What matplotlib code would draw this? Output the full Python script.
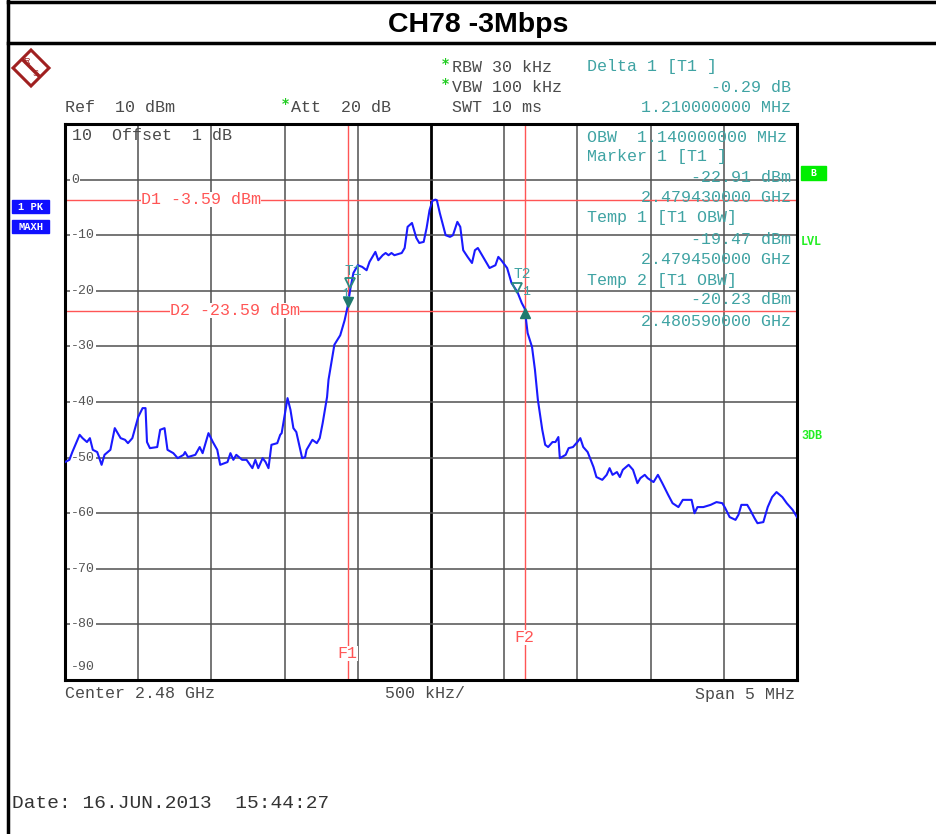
import matplotlib
matplotlib.use("Agg")
import matplotlib.pyplot as plt
from matplotlib.patches import Rectangle, Polygon
from matplotlib.transforms import ScaledTranslation

# trace: offset from 2.48 GHz centre (MHz) and level (dBm)
trace_freq = [-2.50, -2.47, -2.45, -2.40, -2.38, -2.35, -2.33, -2.31, -2.28, -2.25,
              -2.23, -2.19, -2.16, -2.12, -2.09, -2.07, -2.04, -2.00, -1.97, -1.95,
              -1.94, -1.92, -1.87, -1.85, -1.82, -1.80, -1.76, -1.73, -1.69, -1.68,
              -1.66, -1.61, -1.58, -1.56, -1.52, -1.49, -1.46, -1.44, -1.39, -1.37,
              -1.35, -1.33, -1.29, -1.26, -1.22, -1.20, -1.18, -1.15, -1.13, -1.11,
              -1.09, -1.05, -1.03, -1.02, -0.98, -0.96, -0.94, -0.92, -0.88, -0.86,
              -0.85, -0.81, -0.78, -0.76, -0.74, -0.71, -0.70, -0.66, -0.62, -0.59,
              -0.57, -0.55, -0.53, -0.50, -0.47, -0.44, -0.42, -0.38, -0.36, -0.33,
              -0.31, -0.29, -0.27, -0.25, -0.20, -0.18, -0.16, -0.13, -0.10, -0.08,
              -0.05, -0.03, -0.01, 0.01, 0.03, 0.04, 0.06, 0.10, 0.13, 0.15,
              0.18, 0.20, 0.22, 0.25, 0.28, 0.30, 0.32, 0.36, 0.40, 0.44,
              0.46, 0.48, 0.52, 0.55, 0.59, 0.62, 0.64, 0.66, 0.69, 0.71,
              0.73, 0.76, 0.78, 0.80, 0.83, 0.85, 0.87, 0.88, 0.92, 0.94,
              0.97, 1.00, 1.02, 1.04, 1.07, 1.11, 1.13, 1.17, 1.20, 1.22,
              1.24, 1.27, 1.29, 1.31, 1.35, 1.38, 1.41, 1.43, 1.46, 1.48,
              1.52, 1.55, 1.58, 1.62, 1.65, 1.69, 1.72, 1.76, 1.78, 1.80,
              1.82, 1.86, 1.91, 1.95, 1.99, 2.01, 2.04, 2.08, 2.10, 2.12,
              2.16, 2.18, 2.21, 2.23, 2.27, 2.30, 2.33, 2.36, 2.40, 2.43,
              2.47, 2.50]
trace_level = [-50.8, -50.4, -49.0, -45.9, -46.5, -47.2, -46.5, -48.6, -49.0, -51.3,
               -49.5, -48.6, -44.7, -46.5, -46.8, -47.4, -46.5, -42.7, -41.1, -41.1,
               -47.2, -48.3, -48.1, -45.0, -44.7, -48.6, -49.2, -50.1, -49.5, -49.0,
               -49.9, -49.5, -48.1, -49.2, -45.6, -47.2, -48.6, -51.3, -50.8, -49.2,
               -50.4, -49.5, -50.4, -50.4, -51.9, -50.4, -51.9, -50.1, -50.8, -51.9,
               -47.7, -47.4, -45.9, -45.6, -39.3, -41.4, -44.7, -45.4, -50.1, -49.9,
               -48.6, -46.8, -47.4, -46.5, -43.8, -39.1, -36.0, -29.7, -28.0, -25.3,
               -22.9, -19.5, -16.8, -15.4, -15.7, -16.3, -14.8, -13.0, -14.5, -13.6,
               -13.2, -13.6, -13.2, -13.6, -13.2, -12.3, -8.5, -7.8, -10.5, -11.4,
               -11.2, -8.7, -5.5, -3.8, -3.6, -3.7, -6.0, -10.0, -10.3, -10.0,
               -7.6, -8.5, -12.7, -13.9, -15.0, -12.7, -12.3, -14.1, -15.9, -15.4,
               -13.9, -14.5, -15.9, -18.6, -20.2, -22.2, -23.2, -27.6, -30.1, -34.2,
               -39.6, -45.0, -47.7, -48.1, -47.2, -47.2, -46.3, -50.1, -49.5, -48.3,
               -48.1, -47.2, -46.5, -48.1, -49.0, -51.7, -53.5, -54.0, -53.1, -51.9,
               -53.1, -52.6, -53.5, -52.2, -51.3, -52.2, -54.6, -53.7, -53.1, -53.7,
               -54.4, -53.1, -54.6, -56.7, -58.2, -58.9, -57.6, -57.6, -57.6, -60.0,
               -58.9, -58.9, -58.5, -58.0, -58.2, -59.1, -60.7, -61.2, -60.3, -58.5,
               -58.5, -59.4, -60.9, -61.8, -61.6, -58.9, -57.1, -56.2, -57.1, -58.2,
               -59.4, -60.7]

level_ticks = [0, -10, -20, -30, -40, -50, -60, -70, -80, -90]
display_lines = [-3.59, -23.59]
display_names = ["D1 -3.59 dBm", "D2 -23.59 dBm"]
freq_lines = [-0.57, 0.64]
freq_names = ["F1", "F2"]
marker1 = (-0.57, -22.91)
delta1 = (0.64, -23.20)
temp1 = (-0.55, -19.47)
temp2 = (0.59, -20.23)

W, H = 936, 834
MONO = "Liberation Mono"
TEAL = "#3fa3a3"
RED = "#ff5555"
GREY = "#505050"


def fx(x):
    return x / W


def fy(y):
    return 1 - y / H


fig = plt.figure(figsize=(W / 100, H / 100), dpi=100)

# page frame and title
fig.add_artist(plt.Line2D([fx(8), fx(8)], [0, 1], color="black", lw=2.5))
fig.add_artist(plt.Line2D([fx(8), 1], [fy(1.5), fy(1.5)], color="black", lw=2.5))
fig.add_artist(plt.Line2D([fx(8), 1], [fy(43), fy(43)], color="black", lw=2.5))
fig.text(fx(478), fy(25), "CH78 -3Mbps", ha="center", va="center",
         fontsize=20.5, fontweight="bold", family="Liberation Sans")

ax = fig.add_axes([fx(65), fy(680), fx(797) - fx(65), fy(124) - fy(680)])
ax.set_xlim(-2.5, 2.5)
ax.set_ylim(-90, 10)
ax.set_xticks([])
ax.set_yticks([])
for sp in ax.spines.values():
    sp.set_linewidth(2.2)

for i in range(1, 10):
    xv = -2.5 + 0.5 * i
    ax.axvline(xv, color="black" if i == 5 else GREY,
               lw=2.0 if i == 5 else 1.1, zorder=1)
for lv in level_ticks[:-1]:
    ax.axhline(lv, color=GREY, lw=1.1, zorder=1)

for lv in level_ticks:
    yv = lv if lv != -90 else -87.6
    ax.text(-2.46, yv, str(lv), ha="left", va="center", fontsize=9.5,
            family=MONO, color="#555555", zorder=3,
            bbox=dict(facecolor="white", edgecolor="none", pad=0.6))

# display and frequency lines
for lv, name, xt in zip(display_lines, display_names, [-1.98, -1.78]):
    ax.axhline(lv, color=RED, lw=1.0, zorder=2)
    ax.text(xt, lv, name, ha="left", va="center", fontsize=12, family=MONO,
            color=RED, zorder=3, bbox=dict(facecolor="white", edgecolor="none", pad=0))
for fv, name, lv in zip(freq_lines, freq_names, [-85.2, -82.3]):
    ax.axvline(fv, color=RED, lw=1.0, zorder=2)
    ax.text(fv, lv, name, ha="center", va="center", fontsize=12, family=MONO,
            color=RED, zorder=3, bbox=dict(facecolor="white", edgecolor="none", pad=0))

ax.plot(trace_freq, trace_level, color="#1a1aff", lw=1.5, zorder=4)

# markers: triangles sit with their tip on the trace point
up = ax.transData + ScaledTranslation(0, 0.045, fig.dpi_scale_trans)
down = ax.transData + ScaledTranslation(0, -0.045, fig.dpi_scale_trans)
ax.plot(*marker1, marker="v", color="#1f7a6e", ms=7, zorder=5, transform=up)
ax.plot(*delta1, marker="^", color="#1f7a6e", ms=7, zorder=5, transform=down)
for pt in (temp1, temp2):
    ax.plot(*pt, marker="v", mfc="none", mec="#2a8a80", ms=7, mew=1.3, zorder=5,
            transform=up)
ax.text(temp1[0] + 0.02, temp1[1] + 3.0, "T1", ha="center", va="center",
        fontsize=10.5, family=MONO, color=TEAL, zorder=6)
ax.text(temp2[0] + 0.03, temp2[1] + 3.2, "T2", ha="center", va="center",
        fontsize=10.5, family=MONO, color=TEAL, zorder=6)
ax.text(marker1[0] - 0.015, marker1[1] + 2.4, "1", ha="center", va="center",
        fontsize=9.5, family=MONO, color=TEAL, zorder=6)
ax.text(delta1[0] + 0.01, delta1[1] + 2.9, "1", ha="center", va="center",
        fontsize=9.5, family=MONO, color=TEAL, zorder=6)


# header texts
def t(x, y, s, ha="left", color="#4a4a4a", size=12):
    fig.text(fx(x), fy(y), s, ha=ha, va="center", fontsize=size, family=MONO, color=color)


t(65, 107, "Ref  10 dBm")
t(72, 136, "10  Offset  1 dB")
t(291, 107, "Att  20 dB")
t(452, 67, "RBW 30 kHz")
t(452, 87, "VBW 100 kHz")
t(452, 107, "SWT 10 ms")
for x, y in [(285, 104), (445, 64), (445, 84)]:
    fig.text(fx(x), fy(y), "*", ha="center", va="center", fontsize=10,
             color="#22cc22", fontweight="bold")

t(587, 67, "Delta 1 [T1 ]", color=TEAL)
t(791, 87, "-0.29 dB", ha="right", color=TEAL)
t(791, 107, "1.210000000 MHz", ha="right", color=TEAL)
t(587, 137, "OBW  1.140000000 MHz", color=TEAL)
t(587, 157, "Marker 1 [T1 ]", color=TEAL)
t(791, 178, "-22.91 dBm", ha="right", color=TEAL)
t(791, 198, "2.479430000 GHz", ha="right", color=TEAL)
t(587, 218, "Temp 1 [T1 OBW]", color=TEAL)
t(791, 240, "-19.47 dBm", ha="right", color=TEAL)
t(791, 259, "2.479450000 GHz", ha="right", color=TEAL)
t(587, 280, "Temp 2 [T1 OBW]", color=TEAL)
t(791, 300, "-20.23 dBm", ha="right", color=TEAL)
t(791, 321, "2.480590000 GHz", ha="right", color=TEAL)

t(65, 694, "Center 2.48 GHz")
t(385, 694, "500 kHz/")
t(795, 694, "Span 5 MHz", ha="right")
t(12, 803, "Date: 16.JUN.2013  15:44:27", color="#333333", size=14)

# side badges
for y0, label in [(200, "1 PK"), (220, "MAXH")]:
    fig.add_artist(Rectangle((fx(12), fy(y0 + 13)), fx(37), 13 / H, color="#1010ff"))
    fig.text(fx(30.5), fy(y0 + 6.5), label, ha="center", va="center", fontsize=7.5,
             family=MONO, color="white", fontweight="bold")
fig.add_artist(Rectangle((fx(801), fy(180)), fx(25), 14 / H, color="#00ee00"))
fig.text(fx(813.5), fy(173), "B", ha="center", va="center", fontsize=7,
         family=MONO, color="white", fontweight="bold")
for y, s in [(242, "LVL"), (436, "3DB")]:
    fig.text(fx(801), fy(y), s, ha="left", va="center", fontsize=8.5,
             family=MONO, color="#22ee22", fontweight="bold")

# maker logo
cx, cy, r = 31, 68, 18
fig.add_artist(Polygon([(fx(cx), fy(cy - r)), (fx(cx + r), fy(cy)), (fx(cx), fy(cy + r)),
                        (fx(cx - r), fy(cy))], closed=True, fill=False,
                       edgecolor="#a02020", lw=2.2))
fig.add_artist(plt.Line2D([fx(cx - 8), fx(cx + 8)], [fy(cy - 8), fy(cy + 8)],
                          color="#a02020", lw=2.5))
fig.text(fx(cx - 5), fy(cy - 6), "R", ha="center", va="center", fontsize=6.5,
         color="#a02020", family="Liberation Sans")
fig.text(fx(cx + 5), fy(cy + 6), "S", ha="center", va="center", fontsize=6.5,
         color="#a02020", family="Liberation Sans")

fig.savefig("out.png", dpi=100)
